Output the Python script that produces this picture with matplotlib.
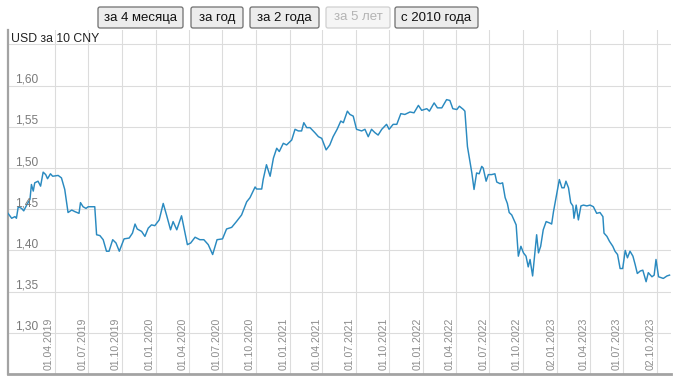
import numpy as np
import pandas as pd
import matplotlib
matplotlib.use('Agg')
import matplotlib.pyplot as plt
import matplotlib.dates as mdates
import matplotlib.transforms as mtransforms
from matplotlib.patches import FancyBboxPatch

# ---------------- data ----------------
base_date = '2019-04-01'
days = [-128, -118, -109, -105, -100, -91, -85, -77, -68, -64, -59, -55, -46, -39, -32, -25, -20, -12, -6,
        9, 18, 27, 36, 46, 55, 66, 70, 77, 85, 91, 109, 114, 123, 132, 141, 148, 158, 167, 176, 189,
        203, 212, 219, 225, 237, 246, 255, 264, 273, 285, 296, 305, 316, 323, 333, 346, 352, 362, 371,
        383, 396, 407, 419, 431, 443, 458, 469, 483, 496, 510, 524, 533,
        547, 551, 565, 569, 578, 588, 597, 606, 613, 624, 633, 640, 647, 656, 665, 674, 680, 688, 697,
        710, 720, 729, 741, 751, 760, 771, 781, 788, 799, 806, 815, 824, 838, 847, 856, 865, 874, 883,
        893, 906, 913, 924, 934, 945, 956, 970, 981, 993, 1002, 1016, 1023, 1036, 1045, 1057, 1070, 1079,
        1087, 1098, 1105, 1116, 1120, 1127, 1132, 1139, 1145, 1152, 1159, 1166, 1170, 1178, 1184, 1193,
        1202, 1207, 1216, 1223, 1230, 1236, 1241, 1248, 1254, 1260, 1266, 1273, 1280, 1287, 1293, 1298,
        1305, 1312, 1316, 1321, 1327, 1334, 1342, 1353, 1357, 1362, 1369, 1378, 1385, 1391, 1396, 1403,
        1409, 1415, 1418, 1424, 1430, 1437, 1444, 1453, 1462, 1471, 1480, 1489, 1497, 1500, 1508, 1515,
        1524, 1530, 1537, 1544, 1551, 1558, 1564, 1571, 1579, 1585, 1591, 1599, 1606, 1615, 1621, 1631,
        1637, 1642, 1649, 1662, 1672, 1679]
rate = [1.445, 1.439, 1.441, 1.439, 1.453, 1.451, 1.448, 1.455, 1.462, 1.480, 1.472, 1.482, 1.484, 1.478,
        1.495, 1.492, 1.487, 1.493, 1.490,
        1.491, 1.488, 1.474, 1.446, 1.449, 1.447, 1.445, 1.458, 1.453, 1.451, 1.453, 1.453, 1.419, 1.418,
        1.413, 1.399, 1.399, 1.413, 1.409, 1.399, 1.414,
        1.415, 1.421, 1.432, 1.426, 1.423, 1.417, 1.427, 1.431, 1.430, 1.437, 1.457, 1.443, 1.425, 1.435,
        1.425, 1.442, 1.429, 1.407, 1.409,
        1.416, 1.413, 1.413, 1.407, 1.395, 1.413, 1.414, 1.426, 1.428, 1.435, 1.443, 1.459, 1.464,
        1.477, 1.4745, 1.4745, 1.486, 1.504, 1.490, 1.512, 1.524, 1.520, 1.530, 1.528, 1.531, 1.534, 1.547,
        1.545, 1.545, 1.555, 1.549, 1.549,
        1.543, 1.538, 1.536, 1.522, 1.528, 1.538, 1.547, 1.557, 1.555, 1.569, 1.565, 1.563, 1.547, 1.545,
        1.547, 1.538, 1.547, 1.543, 1.540,
        1.547, 1.553, 1.547, 1.553, 1.553, 1.566, 1.565, 1.568, 1.567, 1.576, 1.570, 1.572, 1.569, 1.579,
        1.573, 1.573, 1.583, 1.582,
        1.572, 1.571, 1.575, 1.571, 1.569, 1.526, 1.513, 1.494, 1.474, 1.494, 1.493, 1.502, 1.500, 1.484,
        1.492, 1.492,
        1.493, 1.483, 1.481, 1.482, 1.464, 1.457, 1.446, 1.443, 1.437, 1.431, 1.393, 1.405, 1.397, 1.393,
        1.380, 1.389,
        1.369, 1.401, 1.419, 1.397, 1.405, 1.425, 1.435, 1.433, 1.432, 1.447, 1.464, 1.486, 1.476, 1.476,
        1.484, 1.476,
        1.458, 1.454, 1.439, 1.455, 1.437, 1.454, 1.455, 1.454, 1.455, 1.453, 1.445, 1.446, 1.441, 1.421,
        1.417, 1.411,
        1.405, 1.399, 1.395, 1.378, 1.378, 1.400, 1.391, 1.399, 1.393, 1.383, 1.372, 1.375, 1.376, 1.362,
        1.373, 1.368,
        1.370, 1.389, 1.368, 1.366, 1.369, 1.370]

x_tick_labels = ['01.04.2019', '01.07.2019', '01.10.2019', '01.01.2020', '01.04.2020', '01.07.2020',
                 '01.10.2020', '01.01.2021', '01.04.2021', '01.07.2021', '01.10.2021', '01.01.2022',
                 '01.04.2022', '01.07.2022', '01.10.2022', '02.01.2023', '01.04.2023', '01.07.2023',
                 '02.10.2023']
y_ticks = [1.30, 1.35, 1.40, 1.45, 1.50, 1.55, 1.60, 1.65]
y_tick_labels = ['1,30', '1,35', '1,40', '1,45', '1,50', '1,55', '1,60']
title = 'USD за 10 CNY'
buttons = ['за 4 месяца', 'за год', 'за 2 года', 'за 5 лет', 'с 2010 года']
button_enabled = [True, True, True, False, True]

# ---------------- figure ----------------
plt.rcParams['font.family'] = ['Liberation Sans', 'DejaVu Sans']
W, H = 685, 388
fig = plt.figure(figsize=(W / 100, H / 100), dpi=100)
fig.patch.set_facecolor('white')

ax_left, ax_right, ax_top, ax_bottom = 8, 671, 30, 374
ax = fig.add_axes([ax_left / W, (H - ax_bottom) / H, (ax_right - ax_left) / W, (ax_bottom - ax_top) / H])

base = np.datetime64(base_date)
dates = base + np.array(days).astype('timedelta64[D]')
ax.plot(dates, rate, color='#2a8ac0', lw=1.05, zorder=3, solid_joinstyle='round')

ax.set_ylim(1.25, 1.6675)
ax.set_xlim(base + np.timedelta64(-128, 'D'), base + np.timedelta64(1683, 'D'))

tick_dates = pd.to_datetime(x_tick_labels, format='%d.%m.%Y').values
ax.set_xticks(tick_dates)
ax.set_yticks(y_ticks)
ax.grid(True, color='#dcdcdc', lw=0.8, zorder=1)
ax.tick_params(length=0, labelbottom=False, labelleft=False)
for s in ['top', 'right']:
    ax.spines[s].set_visible(False)
ax.spines['left'].set_color('#a3a3a3')
ax.spines['left'].set_linewidth(1.6)
ax.spines['bottom'].set_color('#a3a3a3')
ax.spines['bottom'].set_linewidth(2.0)

for d, lbl in zip(tick_dates, x_tick_labels):
    ax.annotate(lbl, xy=(mdates.date2num(d), 0), xycoords=ax.get_xaxis_transform(),
                xytext=(-6, 4), textcoords='offset pixels', rotation=90,
                ha='center', va='bottom', fontsize=7.6, color='#8c8c8c', zorder=4)

for v, lbl in zip(y_ticks, y_tick_labels):
    ax.annotate(lbl, xy=(0, v), xycoords=ax.get_yaxis_transform(),
                xytext=(7, 3), textcoords='offset pixels',
                ha='left', va='baseline', fontsize=8.6, color='#7a7a7a', zorder=4)

fig.text(11, H - 42, title, transform=mtransforms.IdentityTransform(),
         ha='left', va='baseline', fontsize=8.8, color='#222222')

# ---------------- buttons ----------------
btn_bounds = [(98, 183), (191, 243), (250, 319), (326, 390), (395, 478)]
btn_top, btn_bot = 7, 28
for (x0, x1), lbl, en in zip(btn_bounds, buttons, button_enabled):
    patch = FancyBboxPatch((x0, H - btn_bot), x1 - x0, btn_bot - btn_top,
                           boxstyle='round,pad=0,rounding_size=2',
                           transform=mtransforms.IdentityTransform(),
                           facecolor='#ececec' if en else '#f5f5f5',
                           edgecolor='#6f6f6f' if en else '#d0d0d0', lw=0.9)
    fig.add_artist(patch)
    fig.text((x0 + x1) / 2, H - (btn_top + btn_bot) / 2, lbl,
             transform=mtransforms.IdentityTransform(),
             ha='center', va='center', fontsize=9.5,
             color='#111111' if en else '#b4b4b4')

fig.savefig('out.png', dpi=100)
